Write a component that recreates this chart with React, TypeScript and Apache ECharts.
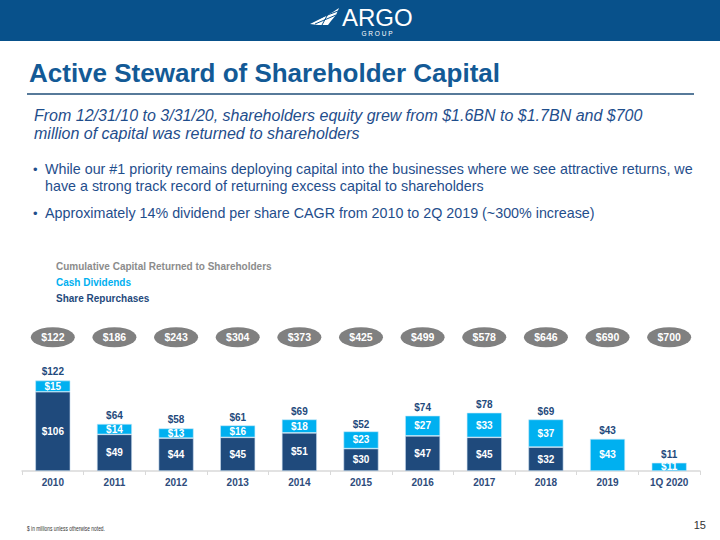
import React, { useEffect, useRef } from "react";
import * as echarts from "echarts";

const categories = ["2010", "2011", "2012", "2013", "2014", "2015", "2016", "2017", "2018", "2019", "1Q 2020"];
const shareRepurchases: (number | null)[] = [106, 49, 44, 45, 51, 30, 47, 45, 32, null, null];
const cashDividends = [15, 14, 13, 16, 18, 23, 27, 33, 37, 43, 11];
const annualTotals = [122, 64, 58, 61, 69, 52, 74, 78, 69, 43, 11];
const cumulativeReturned = [122, 186, 243, 304, 373, 425, 499, 578, 646, 690, 700];

const FONT = "'Liberation Sans', Arial, sans-serif";
const DARK = "#1F4A7C";
const CYAN = "#00B0F0";
const TEXTBLUE = "#1F4E8C";

export default function App() {
  const ref = useRef<HTMLDivElement>(null);
  useEffect(() => {
    if (!ref.current) return;
    const chart = echarts.init(ref.current, undefined, { renderer: "svg" });
    const ellipseLevel = 179;
    const option: any = {
      animation: false,
      backgroundColor: "#ffffff",
      grid: { left: 22, right: 20, top: 329, bottom: 69 },
      xAxis: {
        type: "category",
        data: categories,
        axisLine: { lineStyle: { color: "#D9D9D9", width: 1.5 } },
        axisTick: { show: true, length: 4, lineStyle: { color: "#D9D9D9" } },
        axisLabel: { color: "#2E4C7C", fontWeight: "bold", fontSize: 10, fontFamily: FONT, margin: 6 },
      },
      yAxis: { type: "value", min: 0, max: 190, show: false, splitLine: { show: false } },
      series: [
        {
          name: "Total",
          type: "bar",
          barWidth: 35,
          barGap: "-100%",
          data: annualTotals,
          itemStyle: { color: "rgba(0,0,0,0)" },
          label: {
            show: true,
            position: "top",
            distance: 3,
            formatter: (p: any) => "$" + p.value,
            color: DARK,
            fontWeight: "bold",
            fontSize: 10,
            fontFamily: FONT,
          },
          z: 1,
        },
        {
          name: "Share Repurchases",
          type: "bar",
          stack: "ret",
          barWidth: 35,
          data: shareRepurchases,
          itemStyle: { color: DARK, borderColor: "#C9DDF0", borderWidth: 0.6 },
          label: {
            show: true,
            position: "inside",
            formatter: (p: any) => (p.value == null ? "" : "$" + p.value),
            color: "#ffffff",
            fontWeight: "bold",
            fontSize: 10,
            fontFamily: FONT,
          },
          z: 3,
        },
        {
          name: "Cash Dividends",
          type: "bar",
          stack: "ret",
          barWidth: 35,
          data: cashDividends,
          itemStyle: { color: CYAN, borderColor: "#C9E9F8", borderWidth: 0.6 },
          label: {
            show: true,
            position: "inside",
            formatter: (p: any) => "$" + p.value,
            color: "#ffffff",
            fontWeight: "bold",
            fontSize: 10,
            fontFamily: FONT,
          },
          z: 3,
        },
        {
          name: "Cumulative",
          type: "scatter",
          symbol: "circle",
          symbolSize: [44, 20],
          data: cumulativeReturned.map((v, i) => ({ value: [i, ellipseLevel], cum: v })),
          itemStyle: { color: "#808080", opacity: 1 },
          label: {
            show: true,
            position: "inside",
            formatter: (p: any) => "$" + p.data.cum,
            color: "#ffffff",
            fontWeight: "bold",
            fontSize: 10.5,
            fontFamily: FONT,
          },
          z: 4,
        },
      ],
      graphic: [
        { type: "rect", shape: { x: 0, y: 0, width: 720, height: 41 }, style: { fill: "#08518B" }, z: 0 },
        {
          type: "polygon",
          shape: { points: [[310, 24], [322, 18], [333, 12], [339, 8], [336, 15], [331, 21], [328, 25], [318, 25]] },
          style: { fill: "#ffffff" },
        },
        { type: "line", shape: { x1: 312, y1: 21, x2: 338, y2: 11 }, style: { stroke: "#08518B", lineWidth: 1 } },
        { type: "line", shape: { x1: 315, y1: 24, x2: 336, y2: 15 }, style: { stroke: "#08518B", lineWidth: 1 } },
        { type: "line", shape: { x1: 322, y1: 25, x2: 328, y2: 14 }, style: { stroke: "#08518B", lineWidth: 1 } },
        {
          type: "text", x: 342, y: 17,
          style: { text: "ARGO", fill: "#ffffff", font: `300 24px ${FONT}`, verticalAlign: "middle", align: "left" },
        },
        {
          type: "text", x: 377, y: 33.5,
          style: { text: "G R O U P", fill: "#ffffff", font: `6.5px ${FONT}`, verticalAlign: "middle", align: "center" },
        },
        {
          type: "text", x: 29, y: 73,
          style: { text: "Active Steward of Shareholder Capital", fill: "#135A96", font: `bold 26px ${FONT}`, verticalAlign: "middle" },
        },
        { type: "line", shape: { x1: 27, y1: 94, x2: 694, y2: 94 }, style: { stroke: "#1F4E79", lineWidth: 1.5 } },
        {
          type: "text", x: 34, y: 115,
          style: { text: "From 12/31/10 to 3/31/20, shareholders equity grew from $1.6BN to $1.7BN and $700", fill: TEXTBLUE, font: `italic 16px ${FONT}`, verticalAlign: "middle" },
        },
        {
          type: "text", x: 34, y: 133,
          style: { text: "million of capital was returned to shareholders", fill: TEXTBLUE, font: `italic 16px ${FONT}`, verticalAlign: "middle" },
        },
        {
          type: "text", x: 33, y: 169,
          style: { text: "•", fill: TEXTBLUE, font: `13px ${FONT}`, verticalAlign: "middle" },
        },
        {
          type: "text", x: 45, y: 169,
          style: { text: "While our #1 priority remains deploying capital into the businesses where we see attractive returns, we", fill: TEXTBLUE, font: `14.3px ${FONT}`, verticalAlign: "middle" },
        },
        {
          type: "text", x: 45, y: 186,
          style: { text: "have a strong track record of returning excess capital to shareholders", fill: TEXTBLUE, font: `14.3px ${FONT}`, verticalAlign: "middle" },
        },
        {
          type: "text", x: 33, y: 213,
          style: { text: "•", fill: TEXTBLUE, font: `13px ${FONT}`, verticalAlign: "middle" },
        },
        {
          type: "text", x: 45, y: 213,
          style: { text: "Approximately 14% dividend per share CAGR from 2010 to 2Q 2019 (~300% increase)", fill: TEXTBLUE, font: `14.3px ${FONT}`, verticalAlign: "middle" },
        },
        {
          type: "text", x: 56, y: 266,
          style: { text: "Cumulative Capital Returned to Shareholders", fill: "#8C8C8C", font: `bold 10px ${FONT}`, verticalAlign: "middle" },
        },
        {
          type: "text", x: 56, y: 282,
          style: { text: "Cash Dividends", fill: CYAN, font: `bold 10px ${FONT}`, verticalAlign: "middle" },
        },
        {
          type: "text", x: 56, y: 298,
          style: { text: "Share Repurchases", fill: DARK, font: `bold 10px ${FONT}`, verticalAlign: "middle" },
        },
        {
          type: "text", x: 27, y: 529, scaleX: 0.75,
          style: { text: "$ in millions unless otherwise noted.", fill: "#333333", font: `6.5px ${FONT}`, verticalAlign: "middle" },
        },
        {
          type: "text", x: 706, y: 525,
          style: { text: "15", fill: "#333333", font: `11px ${FONT}`, verticalAlign: "middle", align: "right" },
        },
      ],
    };
    chart.setOption(option);
    return () => chart.dispose();
  }, []);
  return <div ref={ref} style={{ position: "fixed", left: 0, top: 0, width: 720, height: 540 }} />;
}
